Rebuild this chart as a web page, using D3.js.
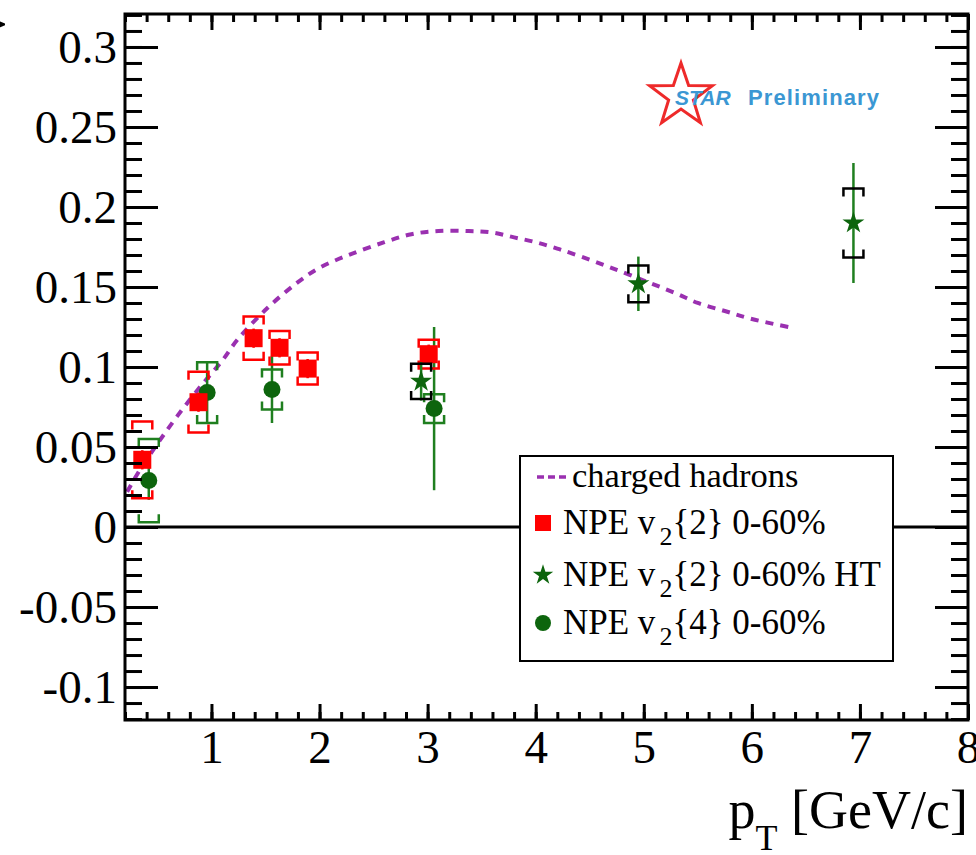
<!DOCTYPE html>
<html>
<head>
<meta charset="utf-8">
<script src="https://cdn.jsdelivr.net/npm/d3@7"></script>
<style>
  body { margin: 0; background: #fff; }
  svg text { font-family: "Liberation Serif", "Times New Roman", serif; }
  svg text.logo { font-family: "Liberation Sans", Arial, sans-serif; }
</style>
</head>
<body>
<div id="chart"></div>
<script>
// charged hadron v2 (dashed curve)
const hadronPt = [0.22, 0.34, 0.5, 0.68, 0.9, 1.1, 1.24, 1.52, 1.8, 2.0, 2.27, 2.6, 2.85, 3.1, 3.38, 3.6, 3.8, 4.0, 4.2, 4.42, 4.7, 5.04, 5.3, 5.5, 5.75, 6.0, 6.34];
const hadronV2 = [0.022, 0.036, 0.052, 0.069, 0.088, 0.104, 0.117, 0.137, 0.153, 0.162, 0.170, 0.178, 0.183, 0.185, 0.185, 0.184, 0.181, 0.178, 0.174, 0.169, 0.162, 0.153, 0.146, 0.140, 0.135, 0.130, 0.125];

// NPE v2{2} 0-60%
const npe2Pt   = [0.36, 0.88, 1.39, 1.63, 1.89, 3.01];
const npe2V2   = [0.042, 0.078, 0.118, 0.112, 0.099, 0.108];
const npe2Stat = [0.006, 0.006, 0.006, 0.006, 0.006, 0.006];
const npe2Sys  = [0.024, 0.019, 0.0135, 0.0105, 0.010, 0.009];

// NPE v2{2} 0-60% HT
const htPt   = [2.94, 4.95, 6.94];
const htV2   = [0.091, 0.152, 0.190];
const htStat = [0.012, 0.017, 0.0375];
const htSys  = [0.011, 0.0115, 0.0215];

// NPE v2{4} 0-60%
const npe4Pt   = [0.42, 0.96, 1.56, 3.06];
const npe4V2   = [0.029, 0.084, 0.086, 0.074];
const npe4Stat = [0.012, 0.019, 0.021, 0.051];
const npe4Sys  = [0.026, 0.019, 0.0125, 0.009];

const xMajor = [1, 2, 3, 4, 5, 6, 7, 8];
const yMajor = [-0.1, -0.05, 0, 0.05, 0.1, 0.15, 0.2, 0.25, 0.3];

const width = 976, height = 855;
const frame = {left: 125, right: 968, top: 14, bottom: 720};

const red = "#ff0000", darkGreen = "#0d650d", barGreen = "#1f7f1f", purple = "#9a30b0";

const svg = d3.select("#chart").append("svg")
    .attr("width", width)
    .attr("height", height);

const x = d3.scaleLinear().domain([0.2, 8]).range([frame.left, frame.right]);
const y = d3.scaleLinear().domain([-0.1206, 0.3206]).range([frame.bottom, frame.top]);

const xMinor = d3.range(0.2, 8.0001, 0.2).map(v => +v.toFixed(2));
const yMinor = d3.range(-0.12, 0.3201, 0.01).map(v => +v.toFixed(2));

const fmt = d => d === 0 ? "0" : String(+d.toFixed(2));

// zero line
svg.append("line")
    .attr("x1", frame.left).attr("x2", frame.right)
    .attr("y1", y(0)).attr("y2", y(0))
    .attr("stroke", "#000").attr("stroke-width", 3);

// charged hadrons
const line = d3.line()
    .x((d, i) => x(hadronPt[i]))
    .y(d => y(d))
    .curve(d3.curveCatmullRom);

svg.append("path")
    .datum(hadronV2)
    .attr("d", line)
    .attr("fill", "none")
    .attr("stroke", purple)
    .attr("stroke-width", 4)
    .attr("stroke-dasharray", "8,7");

// error bars and bracket systematics
function drawSeries(pts, vals, stat, sys, barColor, sysColor) {
  const g = svg.append("g");
  pts.forEach(function(p, i) {
    const cx = x(p);
    g.append("line")
      .attr("x1", cx).attr("x2", cx)
      .attr("y1", y(vals[i] - stat[i])).attr("y2", y(vals[i] + stat[i]))
      .attr("stroke", barColor).attr("stroke-width", 2.5);
    const yt = y(vals[i] + sys[i]), yb = y(vals[i] - sys[i]);
    g.append("path")
      .attr("d", "M" + (cx - 10) + "," + (yt + 8) + "V" + yt + "H" + (cx + 10) + "V" + (yt + 8)
               + "M" + (cx - 10) + "," + (yb - 8) + "V" + yb + "H" + (cx + 10) + "V" + (yb - 8))
      .attr("fill", "none").attr("stroke", sysColor).attr("stroke-width", 2.5);
  });
  return g;
}

drawSeries(npe4Pt, npe4V2, npe4Stat, npe4Sys, barGreen, barGreen)
  .selectAll("circle")
  .data(npe4V2).enter()
  .append("circle")
  .attr("cx", (d, i) => x(npe4Pt[i]))
  .attr("cy", d => y(d))
  .attr("r", 8.5)
  .attr("fill", darkGreen);

drawSeries(npe2Pt, npe2V2, npe2Stat, npe2Sys, red, red)
  .selectAll("rect")
  .data(npe2V2).enter()
  .append("rect")
  .attr("x", (d, i) => x(npe2Pt[i]) - 9)
  .attr("y", d => y(d) - 9)
  .attr("width", 18).attr("height", 18)
  .attr("fill", red);

const star = d3.symbol().type(d3.symbolStar).size(150);

drawSeries(htPt, htV2, htStat, htSys, barGreen, "#000")
  .selectAll("path.star")
  .data(htV2).enter()
  .append("path")
  .attr("class", "star")
  .attr("d", star)
  .attr("transform", (d, i) => "translate(" + x(htPt[i]) + "," + y(d) + ")")
  .attr("fill", darkGreen);

// legend
const leg = svg.append("g");
leg.append("rect")
    .attr("x", 520).attr("y", 456)
    .attr("width", 373).attr("height", 205)
    .attr("fill", "#fff").attr("stroke", "#000").attr("stroke-width", 2);

leg.append("line")
    .attr("x1", 537).attr("x2", 566).attr("y1", 477).attr("y2", 477)
    .attr("stroke", purple).attr("stroke-width", 3.5).attr("stroke-dasharray", "7,4");
leg.append("text")
    .attr("x", 572).attr("y", 487)
    .attr("font-size", 34.5)
    .text("charged hadrons");

const legRows = [
  { y: 523, label: ["NPE v", "2", "{2} 0-60%"] },
  { y: 575, label: ["NPE v", "2", "{2} 0-60% HT"] },
  { y: 623, label: ["NPE v", "2", "{4} 0-60%"] }
];

leg.append("rect")
    .attr("x", 535).attr("y", legRows[0].y - 8)
    .attr("width", 16).attr("height", 16).attr("fill", red);
leg.append("path")
    .attr("d", d3.symbol().type(d3.symbolStar).size(130))
    .attr("transform", "translate(543," + legRows[1].y + ")")
    .attr("fill", darkGreen);
leg.append("circle")
    .attr("cx", 543).attr("cy", legRows[2].y).attr("r", 8)
    .attr("fill", darkGreen);

legRows.forEach(function(r) {
  const t = leg.append("text")
      .attr("x", 563).attr("y", r.y + 11)
      .attr("font-size", 35);
  t.append("tspan").text(r.label[0]);
  t.append("tspan").attr("dx", 4).attr("dy", 11).attr("font-size", 26).text(r.label[1]);
  t.append("tspan").attr("dy", -11).text(r.label[2]);
});

// frame and axes
svg.append("rect")
    .attr("x", frame.left).attr("y", frame.top)
    .attr("width", frame.right - frame.left).attr("height", frame.bottom - frame.top)
    .attr("fill", "none").attr("stroke", "#000").attr("stroke-width", 3);

function styleAxis(g) {
  g.select(".domain").remove();
  g.selectAll(".tick line").attr("stroke", "#000").attr("stroke-width", 3);
  g.selectAll("text").attr("fill", "#000");
}

svg.append("g").attr("transform", "translate(" + frame.left + ",0)")
    .call(d3.axisLeft(y).tickValues(yMajor).tickSizeInner(-33).tickSizeOuter(0).tickPadding(8).tickFormat(fmt))
    .attr("font-size", 47)
    .call(styleAxis);
svg.append("g").attr("transform", "translate(" + frame.left + ",0)")
    .call(d3.axisLeft(y).tickValues(yMinor).tickSizeInner(-17).tickSizeOuter(0).tickFormat(""))
    .call(styleAxis);
svg.append("g").attr("transform", "translate(" + frame.right + ",0)")
    .call(d3.axisRight(y).tickValues(yMajor).tickSizeInner(-33).tickSizeOuter(0).tickFormat(""))
    .call(styleAxis);
svg.append("g").attr("transform", "translate(" + frame.right + ",0)")
    .call(d3.axisRight(y).tickValues(yMinor).tickSizeInner(-17).tickSizeOuter(0).tickFormat(""))
    .call(styleAxis);

svg.append("g").attr("transform", "translate(0," + frame.bottom + ")")
    .call(d3.axisBottom(x).tickValues(xMajor).tickSizeInner(-16).tickSizeOuter(0).tickPadding(10).tickFormat(d3.format("d")))
    .attr("font-size", 47)
    .call(styleAxis);
svg.append("g").attr("transform", "translate(0," + frame.bottom + ")")
    .call(d3.axisBottom(x).tickValues(xMinor).tickSizeInner(-8).tickSizeOuter(0).tickFormat(""))
    .call(styleAxis);
svg.append("g").attr("transform", "translate(0," + frame.top + ")")
    .call(d3.axisTop(x).tickValues(xMajor).tickSizeInner(-16).tickSizeOuter(0).tickFormat(""))
    .call(styleAxis);
svg.append("g").attr("transform", "translate(0," + frame.top + ")")
    .call(d3.axisTop(x).tickValues(xMinor).tickSizeInner(-8).tickSizeOuter(0).tickFormat(""))
    .call(styleAxis);

// axis titles
const xt = svg.append("text")
    .attr("x", frame.right).attr("y", 828)
    .attr("text-anchor", "end")
    .attr("font-size", 54);
xt.append("tspan").text("p");
xt.append("tspan").attr("dy", 22).attr("font-size", 36).text("T");
xt.append("tspan").attr("dy", -22).text(" [GeV/c]");

svg.append("text")
    .attr("transform", "translate(4,12) rotate(-90)")
    .attr("text-anchor", "end")
    .attr("font-size", 50)
    .text("v");

// STAR Preliminary logo
const starPts = d3.range(10).map(function(k) {
  const r = k % 2 === 0 ? 33 : 13;
  const a = -Math.PI / 2 + k * Math.PI / 5;
  return [681 + r * Math.cos(a), 96 + r * Math.sin(a)];
});
svg.append("path")
    .attr("d", "M" + starPts.join("L") + "Z")
    .attr("fill", "none").attr("stroke", "#ee2a2a").attr("stroke-width", 3)
    .attr("stroke-linejoin", "miter");
svg.append("text")
    .attr("class", "logo")
    .attr("x", 675).attr("y", 105)
    .attr("font-style", "italic").attr("font-weight", "bold")
    .attr("font-size", 21)
    .attr("fill", "#3b97d3")
    .text("STAR");
svg.append("text")
    .attr("class", "logo")
    .attr("x", 748).attr("y", 105)
    .attr("font-weight", "bold")
    .attr("font-size", 22)
    .attr("textLength", 131).attr("lengthAdjust", "spacing")
    .attr("fill", "#3b97d3")
    .text("Preliminary");
</script>
</body>
</html>
